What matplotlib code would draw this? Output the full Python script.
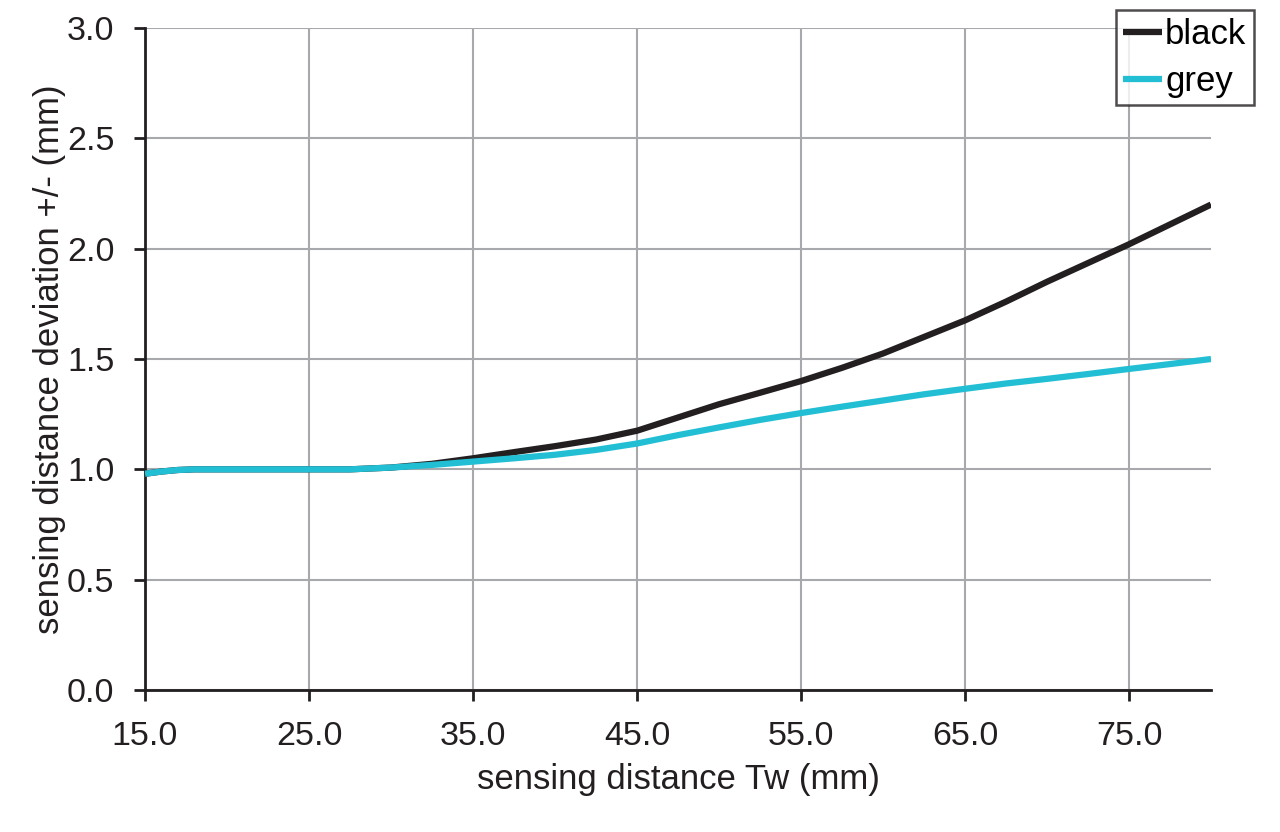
import matplotlib
matplotlib.use('Agg')
import matplotlib.pyplot as plt
from matplotlib.ticker import FormatStrFormatter

plt.rcParams['font.family'] = ['Liberation Sans', 'DejaVu Sans']

# sensing distance Tw (mm)
distance = [15, 16, 17, 18, 20, 22.5, 25, 27.5, 30, 32.5, 35, 37.5, 40, 42.5,
            45, 47.5, 50, 52.5, 55, 57.5, 60, 62.5, 65, 67.5, 70, 72.5, 75,
            77.5, 80]

# deviation for black target
dev_black = [0.98, 0.99, 0.997, 1.0, 1.0, 1.0, 1.0, 1.0, 1.008, 1.025, 1.05,
             1.078, 1.105, 1.135, 1.175, 1.235, 1.295, 1.347, 1.40, 1.46,
             1.525, 1.60, 1.675, 1.76, 1.85, 1.935, 2.02, 2.11, 2.2]

# deviation for grey target
dev_grey = [0.98, 0.99, 0.997, 1.0, 1.0, 1.0, 1.0, 1.0, 1.008, 1.02, 1.035,
            1.05, 1.066, 1.088, 1.117, 1.155, 1.19, 1.224, 1.255, 1.284,
            1.312, 1.34, 1.365, 1.389, 1.41, 1.432, 1.455, 1.477, 1.5]

x_ticks = [15, 25, 35, 45, 55, 65, 75]
y_ticks = [0.0, 0.5, 1.0, 1.5, 2.0, 2.5, 3.0]

fig = plt.figure(figsize=(12.8, 8.32), dpi=100)
ax = fig.add_axes([0.1133, 0.1707, 0.8328, 0.7956])

ax.plot(distance, dev_black, color='#231f20', linewidth=4.5, label='black',
        solid_capstyle='butt', zorder=3)
ax.plot(distance, dev_grey, color='#22bfd4', linewidth=4.5, label='grey',
        solid_capstyle='butt', zorder=4)

ax.set_xlim(15, 80)
ax.set_ylim(0, 3.0)
ax.set_xticks(x_ticks)
ax.set_yticks(y_ticks)
ax.xaxis.set_major_formatter(FormatStrFormatter('%.1f'))
ax.yaxis.set_major_formatter(FormatStrFormatter('%.1f'))

ax.grid(True, color='#a7a9ac', linewidth=1.5, zorder=0)
ax.set_axisbelow(True)

for side in ['top', 'right']:
    ax.spines[side].set_visible(False)
for side in ['left', 'bottom']:
    ax.spines[side].set_linewidth(2)
    ax.spines[side].set_color('#231f20')

ax.tick_params(axis='both', direction='out', length=8, width=2,
               colors='#231f20', labelsize=24.5)
ax.tick_params(axis='y', pad=14)
ax.tick_params(axis='x', pad=14)

ax.set_xlabel('sensing distance Tw (mm)', fontsize=25, color='#231f20', labelpad=8)
ax.set_ylabel('sensing distance deviation +/- (mm)', fontsize=25,
              color='#231f20', labelpad=1)

leg = ax.legend(loc='upper right', bbox_to_anchor=(1254 / 1280, 1 - 10 / 832),
                bbox_transform=fig.transFigure, fontsize=25, frameon=True,
                fancybox=False, edgecolor='#231f20', handlelength=1.1,
                handletextpad=0.1, borderpad=0.22, labelspacing=0.4,
                borderaxespad=0, handleheight=0.6)
leg.get_frame().set_linewidth(1.8)

fig.savefig('out.png', dpi=100)
